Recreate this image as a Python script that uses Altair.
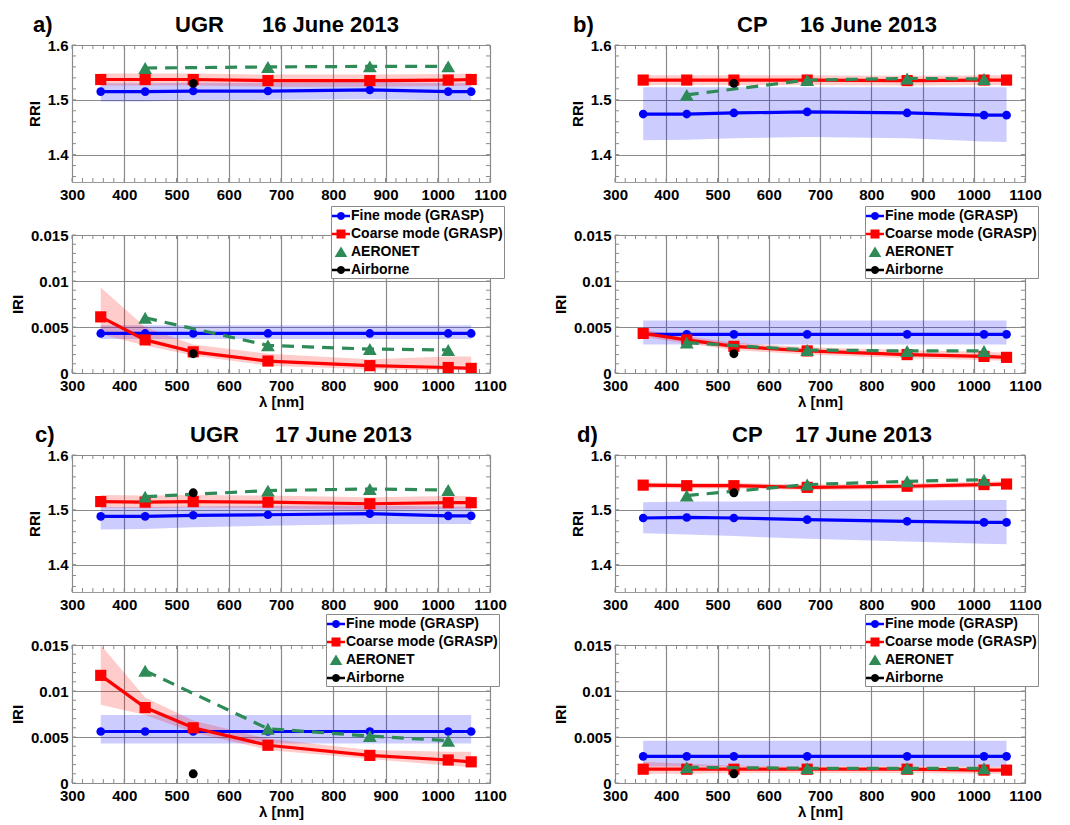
import altair as alt
import pandas as pd

# ---------------------------------------------------------------- data
WAVELENGTHS = [355, 440, 532, 675, 870, 1020, 1064]
AERONET_WL = [440, 675, 870, 1020]
AIRBORNE_WL = [532]

X_TICKS = [300, 400, 500, 600, 700, 800, 900, 1000, 1100]
RRI_TICKS = [1.4, 1.5, 1.6]
IRI_TICKS = [0, 0.005, 0.01, 0.015]

# minor tick marks drawn inside the frame
X_MINOR = list(range(300, 1101, 20))
RRI_MINOR = [round(1.36 + 0.02 * i, 2) for i in range(13)]
IRI_MINOR = [round(0.001 * i, 3) for i in range(16)]

SERIES = ["Fine mode (GRASP)", "Coarse mode (GRASP)", "AERONET", "Airborne"]

# a) UGR, 16 June 2013
A_RRI_FINE = [1.515, 1.515, 1.516, 1.516, 1.518, 1.515, 1.515]
A_RRI_FINE_LO = [1.497, 1.497, 1.499, 1.500, 1.501, 1.499, 1.499]
A_RRI_FINE_HI = [1.530, 1.530, 1.531, 1.531, 1.533, 1.530, 1.530]
A_RRI_COARSE = [1.537, 1.537, 1.537, 1.535, 1.535, 1.536, 1.537]
A_RRI_COARSE_LO = [1.526, 1.526, 1.526, 1.524, 1.524, 1.525, 1.526]
A_RRI_COARSE_HI = [1.548, 1.548, 1.548, 1.546, 1.546, 1.547, 1.548]
A_RRI_AERONET = [1.558, 1.560, 1.561, 1.561]
A_RRI_AIRBORNE = [1.530]
A_IRI_FINE = [0.0043, 0.0043, 0.0043, 0.0043, 0.0043, 0.0043, 0.0043]
A_IRI_FINE_LO = [0.0037, 0.0037, 0.0037, 0.0037, 0.0037, 0.0037, 0.0037]
A_IRI_FINE_HI = [0.0052, 0.0052, 0.0052, 0.0052, 0.0052, 0.0052, 0.0052]
A_IRI_COARSE = [0.0061, 0.0036, 0.0023, 0.0013, 0.0008, 0.0006, 0.0005]
A_IRI_COARSE_LO = [0.0042, 0.0030, 0.0019, 0.0008, 0.0004, 0.0003, 0.0003]
A_IRI_COARSE_HI = [0.0093, 0.0050, 0.0031, 0.0021, 0.0015, 0.0018, 0.0018]
A_IRI_AERONET = [0.0060, 0.0030, 0.0026, 0.0025]
A_IRI_AIRBORNE = [0.0021]

# b) CP, 16 June 2013
B_RRI_FINE = [1.474, 1.474, 1.476, 1.478, 1.476, 1.472, 1.472]
B_RRI_FINE_LO = [1.426, 1.427, 1.430, 1.432, 1.430, 1.424, 1.423]
B_RRI_FINE_HI = [1.523, 1.523, 1.523, 1.523, 1.523, 1.523, 1.523]
B_RRI_COARSE = [1.536, 1.536, 1.536, 1.536, 1.535, 1.536, 1.536]
B_RRI_COARSE_LO = [1.527, 1.527, 1.527, 1.527, 1.526, 1.527, 1.527]
B_RRI_COARSE_HI = [1.545, 1.545, 1.545, 1.545, 1.544, 1.545, 1.545]
B_RRI_AERONET = [1.509, 1.536, 1.539, 1.538]
B_RRI_AIRBORNE = [1.530]
B_IRI_FINE = [0.0042, 0.0042, 0.0042, 0.0042, 0.0042, 0.0042, 0.0042]
B_IRI_FINE_LO = [0.0031, 0.0031, 0.0031, 0.0031, 0.0031, 0.0031, 0.0031]
B_IRI_FINE_HI = [0.0057, 0.0057, 0.0057, 0.0057, 0.0057, 0.0057, 0.0057]
B_IRI_COARSE = [0.0043, 0.0036, 0.0029, 0.0024, 0.0020, 0.0018, 0.0017]
B_IRI_COARSE_LO = [0.0039, 0.0032, 0.0025, 0.0020, 0.0016, 0.0014, 0.0013]
B_IRI_COARSE_HI = [0.0047, 0.0040, 0.0033, 0.0028, 0.0025, 0.0023, 0.0022]
B_IRI_AERONET = [0.0033, 0.0025, 0.0024, 0.0024]
B_IRI_AIRBORNE = [0.0021]

# c) UGR, 17 June 2013
C_RRI_FINE = [1.488, 1.488, 1.490, 1.491, 1.493, 1.489, 1.489]
C_RRI_FINE_LO = [1.464, 1.465, 1.468, 1.471, 1.474, 1.474, 1.474]
C_RRI_FINE_HI = [1.505, 1.505, 1.506, 1.507, 1.508, 1.506, 1.506]
C_RRI_COARSE = [1.515, 1.514, 1.515, 1.514, 1.511, 1.513, 1.513]
C_RRI_COARSE_LO = [1.504, 1.503, 1.504, 1.503, 1.500, 1.502, 1.502]
C_RRI_COARSE_HI = [1.527, 1.526, 1.527, 1.526, 1.523, 1.525, 1.525]
C_RRI_AERONET = [1.524, 1.535, 1.538, 1.536]
C_RRI_AIRBORNE = [1.531]
C_IRI_FINE = [0.0056, 0.0056, 0.0056, 0.0056, 0.0056, 0.0056, 0.0056]
C_IRI_FINE_LO = [0.0043, 0.0043, 0.0043, 0.0043, 0.0043, 0.0043, 0.0043]
C_IRI_FINE_HI = [0.0074, 0.0074, 0.0074, 0.0074, 0.0074, 0.0074, 0.0074]
C_IRI_COARSE = [0.0117, 0.0082, 0.0060, 0.0041, 0.0030, 0.0025, 0.0023]
C_IRI_COARSE_LO = [0.0085, 0.0074, 0.0055, 0.0036, 0.0026, 0.0019, 0.0017]
C_IRI_COARSE_HI = [0.0150, 0.0093, 0.0068, 0.0048, 0.0036, 0.0034, 0.0034]
C_IRI_AERONET = [0.0122, 0.0059, 0.0051, 0.0046]
C_IRI_AIRBORNE = [0.0010]

# d) CP, 17 June 2013
D_RRI_FINE = [1.485, 1.486, 1.485, 1.482, 1.479, 1.477, 1.477]
D_RRI_FINE_LO = [1.457, 1.455, 1.452, 1.447, 1.442, 1.438, 1.437]
D_RRI_FINE_HI = [1.514, 1.515, 1.515, 1.516, 1.517, 1.518, 1.518]
D_RRI_COARSE = [1.545, 1.544, 1.544, 1.541, 1.543, 1.546, 1.547]
D_RRI_COARSE_LO = [1.540, 1.539, 1.539, 1.536, 1.538, 1.541, 1.542]
D_RRI_COARSE_HI = [1.550, 1.549, 1.549, 1.546, 1.548, 1.551, 1.552]
D_RRI_AERONET = [1.526, 1.546, 1.552, 1.555]
D_RRI_AIRBORNE = [1.531]
D_IRI_FINE = [0.0029, 0.0029, 0.0029, 0.0029, 0.0029, 0.0029, 0.0029]
D_IRI_FINE_LO = [0.0018, 0.0018, 0.0018, 0.0018, 0.0018, 0.0018, 0.0018]
D_IRI_FINE_HI = [0.0046, 0.0046, 0.0046, 0.0046, 0.0046, 0.0046, 0.0046]
D_IRI_COARSE = [0.0015, 0.0015, 0.0015, 0.0015, 0.0015, 0.0014, 0.0014]
D_IRI_COARSE_LO = [0.0010, 0.0010, 0.0011, 0.0011, 0.0011, 0.0010, 0.0010]
D_IRI_COARSE_HI = [0.0023, 0.0021, 0.0019, 0.0018, 0.0018, 0.0018, 0.0018]
D_IRI_AERONET = [0.0017, 0.0016, 0.0016, 0.0016]
D_IRI_AIRBORNE = [0.0010]

# ---------------------------------------------------------------- style
FONT = "Liberation Sans"
BLUE, RED, GREEN, BLACK = "#0000ff", "#ff0000", "#2e8b57", "#000000"
GRID = "#8a8a8a"
MINOR = "#8a8a8a"
LEFT_W, RIGHT_W = 418, 410
RRI_H, IRI_H = 137, 138
GAP_IN_PANEL, GAP_BETWEEN_PANELS, GAP_COLUMNS = 53, 82, 125

# legend glyphs: short line with the marker in the middle (unit square -1..1)
LEGEND_SHAPES = [
    "M-1,-0.15H-0.424A0.45,0.45 0 0 1 0.424,-0.15H1V0.15H0.424A0.45,0.45 0 0 1 -0.424,0.15H-1Z",
    "M-1,-0.15H-0.5V-0.5H0.5V-0.15H1V0.15H0.5V0.5H-0.5V0.15H-1Z",
    "M0,-0.6L0.7,0.55H-0.7Z",
    "M-1,-0.15H-0.424A0.45,0.45 0 0 1 0.424,-0.15H1V0.15H0.424A0.45,0.45 0 0 1 -0.424,0.15H-1Z",
]


def line_frame(x, v):
    return pd.DataFrame({"wl": x, "v": v})


def band_frame(lo, hi):
    return pd.DataFrame({"wl": WAVELENGTHS, "lo": lo, "hi": hi})


def subplot(width, height, kind, fine, coarse, aeronet, airborne,
            legend_pos=None, heading=None):
    if kind == "RRI":
        domain, ticks, minor = [1.35, 1.6], RRI_TICKS, RRI_MINOR
        label_expr = "format(datum.value, '.1f')"
        xtitle = None
    else:
        domain, ticks, minor = [0, 0.015], IRI_TICKS, IRI_MINOR
        label_expr = "format(datum.value, '.3~f')"
        xtitle = "λ [nm]"

    xscale = alt.Scale(domain=[300, 1100], nice=False, zero=False)
    yscale = alt.Scale(domain=domain, nice=False, zero=False)
    xaxis = alt.Axis(values=X_TICKS, labelExpr="format(datum.value, 'd')",
                     title=xtitle, labelFlush=False)
    yaxis = alt.Axis(values=ticks, labelExpr=label_expr, title=kind, labelFlush=False)

    def xe(field="wl"):
        return alt.X(f"{field}:Q", scale=xscale, axis=xaxis)

    def ye(field="v"):
        return alt.Y(f"{field}:Q", scale=yscale, axis=yaxis)

    layers = []
    # minor ticks on the four sides of the frame
    xm = pd.DataFrame({"wl": X_MINOR})
    ym = pd.DataFrame({"v": minor})
    for y0, y1 in ((height, height - 4), (0, 4)):
        layers.append(alt.Chart(xm).mark_rule(color=MINOR, strokeWidth=1)
                      .encode(x=xe(), y=alt.value(y0), y2=alt.value(y1)))
    for x0, x1 in ((0, 4), (width, width - 4)):
        layers.append(alt.Chart(ym).mark_rule(color=MINOR, strokeWidth=1)
                      .encode(y=ye(), x=alt.value(x0), x2=alt.value(x1)))

    # uncertainty bands
    for (vals, lo, hi), col in ((fine, BLUE), (coarse, RED)):
        layers.append(
            alt.Chart(band_frame(lo, hi)).mark_area(color=col, opacity=0.2, clip=True)
            .encode(x=xe(), y=ye("lo"), y2="hi")
        )
    # retrieved modes
    for (vals, lo, hi), col, shape, size in ((fine, BLUE, "circle", 75),
                                              (coarse, RED, "square", 125)):
        df = line_frame(WAVELENGTHS, vals)
        layers.append(alt.Chart(df).mark_line(color=col, strokeWidth=3.2, clip=True)
                      .encode(x=xe(), y=ye()))
        layers.append(alt.Chart(df).mark_point(color=col, filled=True, opacity=1,
                                               shape=shape, size=size, clip=True)
                      .encode(x=xe(), y=ye()))
    # AERONET
    df = line_frame(AERONET_WL, aeronet)
    layers.append(alt.Chart(df).mark_line(color=GREEN, strokeWidth=3.2,
                                          strokeDash=[12, 8], clip=True)
                  .encode(x=xe(), y=ye()))
    layers.append(alt.Chart(df).mark_point(color=GREEN, filled=True, opacity=1,
                                           shape="triangle-up", size=190, clip=True)
                  .encode(x=xe(), y=ye()))
    # airborne
    layers.append(alt.Chart(line_frame(AIRBORNE_WL, airborne))
                  .mark_point(color=BLACK, filled=True, opacity=1, shape="circle",
                              size=80, clip=True)
                  .encode(x=xe(), y=ye()))

    if legend_pos is not None:
        leg = alt.Legend(
            orient="none", legendX=legend_pos[0], legendY=legend_pos[1], title=None,
            fillColor="white", strokeColor="#8a8a8a", padding=1, rowPadding=2,
            symbolSize=324, symbolStrokeWidth=0, symbolOpacity=1, labelOffset=1,
            labelFont=FONT, labelFontSize=14, labelFontWeight="bold",
            labelColor="black", labelLimit=300, cornerRadius=0,
        )
        key_df = pd.DataFrame({"series": SERIES,
                               "wl": [WAVELENGTHS[0]] * 4,
                               "v": [fine[0][0]] * 4})
        layers.append(
            alt.Chart(key_df).mark_point(filled=True, opacity=0)
            .encode(
                x=xe(), y=ye(),
                color=alt.Color("series:N", scale=alt.Scale(domain=SERIES,
                                range=[BLUE, RED, GREEN, BLACK]), legend=leg),
                shape=alt.Shape("series:N", scale=alt.Scale(domain=SERIES,
                                range=LEGEND_SHAPES), legend=leg),
            )
        )

    if heading is not None:
        letter, lx, site, sx, date, dx, ty = heading
        for text, px in ((letter, lx), (site, sx), (date, dx)):
            layers.append(
                alt.Chart(pd.DataFrame({"t": [text]}))
                .mark_text(font=FONT, fontSize=22, fontWeight="bold", align="left",
                           baseline="alphabetic", color="black")
                .encode(text="t:N", x=alt.value(px), y=alt.value(ty))
            )

    return alt.layer(*layers).properties(width=width, height=height)


def spacer(width, height):
    # empty cell that only reserves vertical room in the grid
    return (alt.Chart(pd.DataFrame({"t": [""]})).mark_text(opacity=0)
            .encode(text="t:N", x=alt.value(0), y=alt.value(0))
            .properties(width=width, height=height,
                        view=alt.ViewBackground(strokeWidth=0, strokeOpacity=0)))


def parts(fine, fine_lo, fine_hi, coarse, coarse_lo, coarse_hi, aeronet, airborne):
    return ((fine, fine_lo, fine_hi), (coarse, coarse_lo, coarse_hi), aeronet, airborne)


a_rri = subplot(LEFT_W, RRI_H, "RRI", *parts(
    A_RRI_FINE, A_RRI_FINE_LO, A_RRI_FINE_HI, A_RRI_COARSE, A_RRI_COARSE_LO,
    A_RRI_COARSE_HI, A_RRI_AERONET, A_RRI_AIRBORNE),
    heading=("a)", -39, "UGR", 103, "16 June 2013", 190, -13))
a_iri = subplot(LEFT_W, IRI_H, "IRI", *parts(
    A_IRI_FINE, A_IRI_FINE_LO, A_IRI_FINE_HI, A_IRI_COARSE, A_IRI_COARSE_LO,
    A_IRI_COARSE_HI, A_IRI_AERONET, A_IRI_AIRBORNE), legend_pos=(259, -29))

b_rri = subplot(RIGHT_W, RRI_H, "RRI", *parts(
    B_RRI_FINE, B_RRI_FINE_LO, B_RRI_FINE_HI, B_RRI_COARSE, B_RRI_COARSE_LO,
    B_RRI_COARSE_HI, B_RRI_AERONET, B_RRI_AIRBORNE),
    heading=("b)", -42, "CP", 122, "16 June 2013", 185, -13))
b_iri = subplot(RIGHT_W, IRI_H, "IRI", *parts(
    B_IRI_FINE, B_IRI_FINE_LO, B_IRI_FINE_HI, B_IRI_COARSE, B_IRI_COARSE_LO,
    B_IRI_COARSE_HI, B_IRI_AERONET, B_IRI_AIRBORNE), legend_pos=(250, -29))

c_rri = subplot(LEFT_W, RRI_H, "RRI", *parts(
    C_RRI_FINE, C_RRI_FINE_LO, C_RRI_FINE_HI, C_RRI_COARSE, C_RRI_COARSE_LO,
    C_RRI_COARSE_HI, C_RRI_AERONET, C_RRI_AIRBORNE),
    heading=("c)", -37, "UGR", 118, "17 June 2013", 203, -13))
c_iri = subplot(LEFT_W, IRI_H, "IRI", *parts(
    C_IRI_FINE, C_IRI_FINE_LO, C_IRI_FINE_HI, C_IRI_COARSE, C_IRI_COARSE_LO,
    C_IRI_COARSE_HI, C_IRI_AERONET, C_IRI_AIRBORNE), legend_pos=(254, -31))

d_rri = subplot(RIGHT_W, RRI_H, "RRI", *parts(
    D_RRI_FINE, D_RRI_FINE_LO, D_RRI_FINE_HI, D_RRI_COARSE, D_RRI_COARSE_LO,
    D_RRI_COARSE_HI, D_RRI_AERONET, D_RRI_AIRBORNE),
    heading=("d)", -38, "CP", 117, "17 June 2013", 180, -13))
d_iri = subplot(RIGHT_W, IRI_H, "IRI", *parts(
    D_IRI_FINE, D_IRI_FINE_LO, D_IRI_FINE_HI, D_IRI_COARSE, D_IRI_COARSE_LO,
    D_IRI_COARSE_HI, D_IRI_AERONET, D_IRI_AIRBORNE), legend_pos=(250, -31))

cells = [
    a_rri, b_rri,
    spacer(LEFT_W, GAP_IN_PANEL), spacer(RIGHT_W, GAP_IN_PANEL),
    a_iri, b_iri,
    spacer(LEFT_W, GAP_BETWEEN_PANELS), spacer(RIGHT_W, GAP_BETWEEN_PANELS),
    c_rri, d_rri,
    spacer(LEFT_W, GAP_IN_PANEL), spacer(RIGHT_W, GAP_IN_PANEL),
    c_iri, d_iri,
]

chart = (
    alt.concat(*cells, columns=2, spacing={"row": 0, "column": GAP_COLUMNS},
               bounds="flush")
    .resolve_scale(color="independent", shape="independent")
    .resolve_legend(color="independent", shape="independent")
    .properties(padding={"left": 9, "top": 13, "right": 0, "bottom": 0},
                background="white")
    .configure_view(stroke="#9a9a9a", strokeWidth=1)
    .configure_axis(
        labelFont=FONT, labelFontSize=15, labelFontWeight="bold", labelColor="black",
        titleFont=FONT, titleFontSize=15, titleFontWeight="bold", titleColor="black",
        domain=False, ticks=False, grid=True, gridColor=GRID, gridWidth=1.2,
        gridOpacity=1,
    )
    .configure_axisX(labelPadding=5, titlePadding=1)
    .configure_axisY(labelPadding=4, titlePadding=5)
)

chart.save("out.html", embed_options={"renderer": "svg", "actions": False})
